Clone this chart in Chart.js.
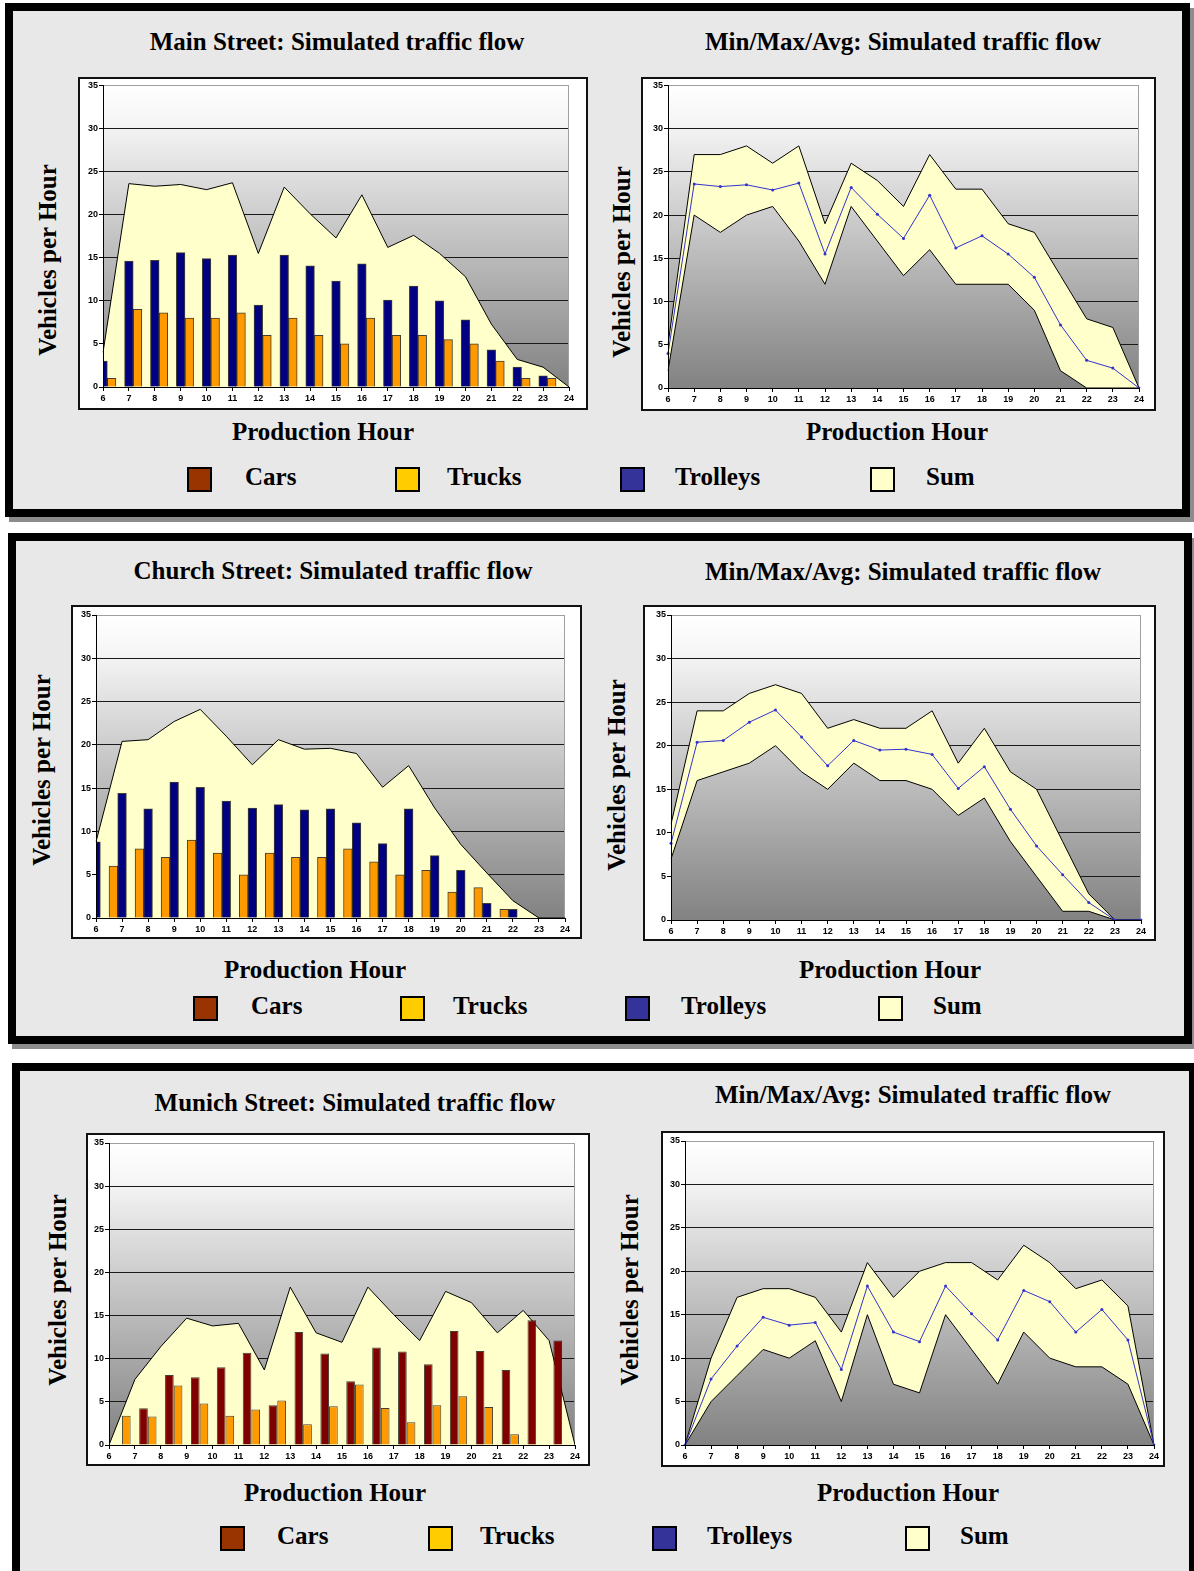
<!DOCTYPE html>
<html lang="en">
<head>
    <meta charset="UTF-8">
    <title>Simulated traffic flow</title>
    <script src="https://cdn.jsdelivr.net/npm/chart.js"></script>
    <style>
        html, body {
            margin: 0;
            padding: 0;
            background: #fff;
            overflow: hidden;
            width: 1194px;
            height: 1571px;
        }
        .panel {
            position: absolute;
            box-sizing: border-box;
            border: 8px solid #000;
            background: #e8e8e8;
            box-shadow: 4px 5px 0 #8c8c8c;
        }
        .box {
            position: absolute;
            box-sizing: border-box;
            border: 2px solid #111;
            background: #fff;
        }
        .box canvas {
            position: absolute;
            left: 0;
            top: 0;
        }
        .txt {
            position: absolute;
            font-family: 'Liberation Serif', 'Times New Roman', serif;
            font-weight: bold;
            font-size: 25px;
            color: #000;
            white-space: nowrap;
            transform: translate(-50%, -50%);
        }
        .ytitle {
            transform: translate(-50%, -50%) rotate(-90deg);
        }
        .lab {
            transform: translate(0, -50%);
        }
        .sq {
            position: absolute;
            box-sizing: border-box;
            width: 25px;
            height: 25px;
            border: 2px solid #000;
        }
    </style>
</head>
<body>
    <script>
        // hours on the x axis
        const hours = ['6', '7', '8', '9', '10', '11', '12', '13', '14', '15', '16', '17', '18', '19', '20', '21', '22', '23', '24'];
        // Munich bars sit in the middle of each hour interval
        const munichSlots = [6.5, 7.5, 8.5, 9.5, 10.5, 11.5, 12.5, 13.5, 14.5, 15.5, 16.5, 17.5, 18.5, 19.5, 20.5, 21.5, 22.5, 23.5];

        const mainCars = [];
        const mainTrucks = [1, 9, 8.6, 8, 8, 8.6, 6, 8, 6, 5, 8, 6, 6, 5.5, 5, 3, 1, 1, 0];
        const mainTrolleys = [3, 14.6, 14.7, 15.6, 14.9, 15.3, 9.5, 15.3, 14.05, 12.3, 14.3, 10.1, 11.7, 10, 7.8, 4.3, 2.3, 1.3, 0];
        const mainSum = [4, 23.6, 23.3, 23.5, 22.9, 23.7, 15.5, 23.2, 20.1, 17.3, 22.3, 16.2, 17.6, 15.5, 12.8, 7.3, 3.2, 2.3, 0];
        const mainMax = [5, 27, 27, 28, 26, 28, 19, 26, 24, 21, 27, 23, 23, 19, 18, 13, 8, 7, 0];
        const mainMin = [2, 20, 18, 20, 21, 17, 12, 21, 17, 13, 16, 12, 12, 12, 9, 2, 0, 0, 0];

        const churchCars = [];
        const churchTrucks = [0, 6, 8, 7, 9, 7.5, 5, 7.5, 7, 7, 8, 6.5, 5, 5.5, 3, 3.5, 1, 0, 0];
        const churchTrolleys = [8.8, 14.4, 12.6, 15.7, 15.1, 13.5, 12.7, 13.1, 12.5, 12.6, 11, 8.6, 12.6, 7.2, 5.5, 1.7, 1, 0, 0];
        const churchSum = [8.8, 20.4, 20.6, 22.7, 24.1, 21, 17.7, 20.6, 19.5, 19.6, 19, 15.1, 17.6, 12.7, 8.5, 5.2, 2, 0, 0];
        const churchMax = [11, 24, 24, 26, 27, 26, 22, 23, 22, 22, 24, 18, 22, 17, 15, 9, 3, 0, 0];
        const churchMin = [7, 16, 17, 18, 20, 17, 15, 18, 16, 16, 15, 12, 14, 9, 5, 1, 1, 0, 0];

        const munichCars = [0, 4.25, 8.1, 7.85, 9, 10.7, 4.6, 13.1, 10.6, 7.4, 11.3, 10.85, 9.35, 13.2, 10.9, 8.7, 14.45, 12.1];
        const munichTrucks = [3.4, 3.3, 6.9, 4.8, 3.4, 4.1, 5.15, 2.4, 4.5, 7, 4.3, 2.65, 4.6, 5.65, 4.4, 1.25, 0, 0];
        const munichSum = [0, 7.6, 11.4, 14.7, 13.8, 14.1, 8.7, 18.3, 13, 11.9, 18.3, 15.1, 12.1, 17.8, 16.5, 13, 15.6, 12.1, 0];
        const munichMax = [0, 10, 17, 18, 18, 17, 13, 21, 17, 20, 21, 21, 19, 23, 21, 18, 19, 16, 0];
        const munichMin = [0, 5, 8, 11, 10, 12, 5, 15, 7, 6, 15, 11, 7, 13, 10, 9, 9, 7, 0];

        const legendNames = ['Cars', 'Trucks', 'Trolleys', 'Sum'];
        const legendColors = ['#993300', '#FFCC00', '#333399', '#FFFFCC'];

        const colCars = '#800000';
        const colTrucks = '#FF9900';
        const colTrolleys = '#000080';
        const colSum = '#FFFFCC';
        const colAvg = '#3333CC';

        const tickFont = { family: "'Liberation Sans', Arial, sans-serif", size: 9, weight: 'bold' };

        function add(cls, html, style) {
            const d = document.createElement('div');
            d.className = cls;
            d.innerHTML = html;
            Object.assign(d.style, style);
            document.body.appendChild(d);
            return d;
        }

        function px(v) { return v + 'px'; }

        // panels + legends
        const panels = [
            { x: 5, y: 3, w: 1185, h: 514, ly: 479, sq: [187, 395, 620, 870], lab: [245, 447, 675, 926] },
            { x: 8, y: 533, w: 1184, h: 511, ly: 1008, sq: [193, 400, 625, 878], lab: [251, 453, 681, 933] },
            { x: 12, y: 1063, w: 1185, h: 520, ly: 1538, sq: [220, 428, 652, 905], lab: [277, 480, 707, 960] }
        ];
        panels.forEach(p => {
            add('panel', '', { left: px(p.x), top: px(p.y), width: px(p.w), height: px(p.h) });
        });
        panels.forEach(p => {
            legendNames.forEach((n, i) => {
                add('sq', '', { left: px(p.sq[i]), top: px(p.ly - 12), background: legendColors[i] });
                add('txt lab', n, { left: px(p.lab[i]), top: px(p.ly - 2) });
            });
        });

        function plotGradient(ctx, a) {
            const g = ctx.createLinearGradient(0, a.top, 0, a.bottom);
            g.addColorStop(0, '#ffffff');
            g.addColorStop(0.12, '#f6f6f6');
            g.addColorStop(1, '#828282');
            return g;
        }

        const plotBg = {
            id: 'plotBg',
            beforeDraw(chart) {
                const a = chart.chartArea, c = chart.ctx;
                c.save();
                c.fillStyle = plotGradient(c, a);
                c.fillRect(a.left, a.top, a.right - a.left, a.bottom - a.top);
                c.restore();
            },
            beforeDatasetsDraw(chart) {
                const a = chart.chartArea, c = chart.ctx;
                c.save();
                c.strokeStyle = '#a0a0a0';
                c.lineWidth = 1;
                c.beginPath();
                c.moveTo(a.left, Math.round(a.top) + 0.5);
                c.lineTo(Math.round(a.right) - 0.5, Math.round(a.top) + 0.5);
                c.lineTo(Math.round(a.right) - 0.5, a.bottom);
                c.stroke();
                c.restore();
            }
        };

        // white box with the canvas; p = plot area [left, top, right, bottom] in page px
        function makeBox(b, p) {
            const div = add('box', '', { left: px(b[0]), top: px(b[1]), width: px(b[2]), height: px(b[3]) });
            const cv = document.createElement('canvas');
            cv.width = b[2] - 4;
            cv.height = b[3] - 4;
            div.appendChild(cv);
            const cx = b[0] + 2, cy = b[1] + 2;
            return {
                cv: cv,
                pad: { left: 0, bottom: 0, top: p[1] - cy, right: cx + cv.width - p[2] },
                yW: p[0] - cx,
                xH: cy + cv.height - p[3]
            };
        }

        function xScale(g, linear) {
            const s = {
                type: 'category',
                labels: hours,
                offset: false,
                grid: { offset: false, drawOnChartArea: false, color: '#000', tickLength: 4 },
                border: { color: '#000', z: 1 },
                ticks: { color: '#000', font: tickFont, padding: 2, autoSkip: false, maxRotation: 0 },
                afterFit: sc => { sc.height = g.xH; }
            };
            if (linear) {
                // hour axis as numbers, so bars can sit between the ticks
                s.type = 'linear';
                s.min = Number(hours[0]);
                s.max = Number(hours[hours.length - 1]);
                s.ticks.stepSize = 1;
                delete s.labels;
            }
            return s;
        }

        function yScale(g) {
            return {
                min: 0,
                max: 35,
                ticks: { stepSize: 5, color: '#000', font: tickFont, padding: 1 },
                grid: { color: c => c.tick.value === 35 ? '#a0a0a0' : '#1a1a1a', tickColor: '#000', tickLength: 4 },
                border: { color: '#000', z: 1 },
                afterFit: s => { s.width = g.yW; }
            };
        }

        function bar(label, data, color, cat, slots) {
            return {
                type: 'bar', label: label,
                data: slots ? data.map((v, i) => ({ x: slots[i], y: v })) : data,
                backgroundColor: color, borderColor: 'rgba(0,0,0,0.75)', borderWidth: 1,
                categoryPercentage: cat, barPercentage: 1, order: 0, clip: 0
            };
        }

        function sumArea(data) {
            return {
                type: 'line', label: 'Sum', data: data,
                backgroundColor: colSum, borderColor: '#000', borderWidth: 1,
                fill: 'origin', pointRadius: 0, tension: 0, order: 10
            };
        }

        function barChart(box, plot, bars, sum, linear) {
            const g = makeBox(box, plot);
            new Chart(g.cv, {
                type: 'bar',
                data: { labels: hours, datasets: bars.concat([sumArea(sum)]) },
                options: {
                    responsive: false,
                    animation: false,
                    layout: { padding: g.pad },
                    scales: { x: xScale(g, linear), y: yScale(g) },
                    plugins: { legend: { display: false }, tooltip: { enabled: false } }
                },
                plugins: [plotBg]
            });
        }

        function rangeChart(box, plot, max, min, avg) {
            const g = makeBox(box, plot);
            new Chart(g.cv, {
                type: 'line',
                data: {
                    labels: hours,
                    datasets: [
                        { label: 'Avg', data: avg, borderColor: colAvg, borderWidth: 1, pointRadius: 1.5, pointBorderWidth: 0,
                          pointBackgroundColor: colAvg, fill: false, tension: 0, order: 0 },
                        { label: 'Min', data: min, borderColor: '#000', borderWidth: 1, pointRadius: 0, tension: 0, order: 1,
                          fill: 'origin',
                          backgroundColor: c => c.chart.chartArea ? plotGradient(c.chart.ctx, c.chart.chartArea) : '#aaa' },
                        { label: 'Max', data: max, borderColor: '#000', borderWidth: 1, pointRadius: 0, tension: 0, order: 2,
                          fill: 'origin', backgroundColor: colSum }
                    ]
                },
                options: {
                    responsive: false,
                    animation: false,
                    layout: { padding: g.pad },
                    scales: { x: xScale(g), y: yScale(g) },
                    plugins: { legend: { display: false }, tooltip: { enabled: false } }
                },
                plugins: [plotBg]
            });
        }

        function titles(t, tx, ty, yt, xt) {
            add('txt', t, { left: px(tx), top: px(ty) });
            add('txt ytitle', 'Vehicles per Hour', { left: px(yt[0]), top: px(yt[1]) });
            add('txt', 'Production Hour', { left: px(xt[0]), top: px(xt[1]) });
        }

        // Main Street
        titles('Main Street: Simulated traffic flow', 337, 42, [48, 260], [323, 432]);
        barChart([78, 77, 510, 333], [103, 85, 569, 387], [
            bar('Cars', mainCars, colCars, 1),
            bar('Trolleys', mainTrolleys, colTrolleys, 1),
            bar('Trucks', mainTrucks, colTrucks, 1)
        ], mainSum);
        titles('Min/Max/Avg: Simulated traffic flow', 903, 42, [622, 262], [897, 432]);
        rangeChart([641, 77, 515, 334], [668, 85, 1139, 388], mainMax, mainMin, mainSum);

        // Church Street
        titles('Church Street: Simulated traffic flow', 333, 571, [42, 770], [315, 970]);
        barChart([71, 605, 511, 334], [96, 615, 565, 918], [
            bar('Trucks', churchTrucks, colTrucks, 1),
            bar('Trolleys', churchTrolleys, colTrolleys, 1),
            bar('Cars', churchCars, colCars, 1)
        ], churchSum);
        titles('Min/Max/Avg: Simulated traffic flow', 903, 572, [617, 775], [890, 970]);
        rangeChart([643, 605, 513, 336], [671, 615, 1141, 920], churchMax, churchMin, churchSum);

        // Munich Street
        titles('Munich Street: Simulated traffic flow', 355, 1103, [58, 1290], [335, 1493]);
        barChart([86, 1133, 504, 333], [109, 1143, 575, 1445], [
            bar('Cars', munichCars, colCars, 0.67, munichSlots),
            bar('Trucks', munichTrucks, colTrucks, 0.67, munichSlots)
        ], munichSum, true);
        titles('Min/Max/Avg: Simulated traffic flow', 913, 1095, [630, 1290], [908, 1493]);
        rangeChart([661, 1131, 504, 336], [685, 1141, 1154, 1445], munichMax, munichMin, munichSum);
    </script>
</body>
</html>
